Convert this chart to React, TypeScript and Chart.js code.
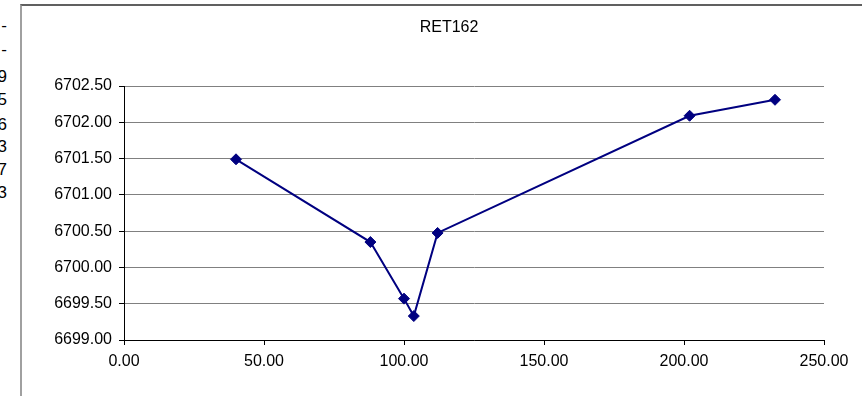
import React, { useEffect, useRef } from "react";
import { Chart, registerables } from "chart.js";

Chart.register(...registerables);

const chartTitle = "RET162";
const distances = [40, 88, 100, 103.5, 112, 202, 232.5];
const elevations = [6701.49, 6700.35, 6699.57, 6699.33, 6700.475, 6702.09, 6702.31];
const xMin = 0;
const xMax = 250;
const xStep = 50;
const yMin = 6699;
const yMax = 6702.5;
const yStep = 0.5;
const sideGlyphs = ["-", "-", "9", "5", "6", "3", "7", "3"];
const sideGlyphTops = [16, 40, 67, 90, 115, 137, 160, 183];

const FONT_FAMILY = "'Liberation Sans', Arial, sans-serif";

const titlePlugin = {
  id: "centeredTitle",
  afterDraw(chart: any) {
    const ctx = chart.ctx;
    ctx.save();
    ctx.font = `16px ${FONT_FAMILY}`;
    ctx.fillStyle = "#000";
    ctx.textAlign = "center";
    ctx.textBaseline = "middle";
    ctx.fillText(chartTitle, 449, 28);
    ctx.restore();
  },
};

export default function App() {
  const canvasRef = useRef<HTMLCanvasElement | null>(null);

  useEffect(() => {
    document.body.style.margin = "0";
    const canvas = canvasRef.current;
    if (!canvas) return;
    const font = { family: FONT_FAMILY, size: 16 };
    const chart = new Chart(canvas, {
      type: "scatter",
      data: {
        datasets: [
          {
            label: chartTitle,
            data: distances.map((x, i) => ({ x, y: elevations[i] })),
            showLine: true,
            borderColor: "#000080",
            backgroundColor: "#000080",
            borderWidth: 2,
            pointStyle: "rectRot",
            pointRadius: 5.5,
            pointHoverRadius: 5.5,
            pointBorderWidth: 1,
          },
        ],
      },
      options: {
        animation: false,
        responsive: false,
        devicePixelRatio: 1,
        layout: { padding: { left: 30, right: 38, top: 86, bottom: 20 } },
        plugins: {
          legend: { display: false },
          tooltip: { enabled: false },
          title: { display: false },
        },
        scales: {
          x: {
            type: "linear",
            min: xMin,
            max: xMax,
            afterFit: (scale: any) => {
              scale.height = 36;
            },
            ticks: {
              stepSize: xStep,
              color: "#000",
              font,
              padding: 7,
              maxRotation: 0,
              callback: (v: any) => Number(v).toFixed(2),
            },
            grid: {
              drawOnChartArea: false,
              drawTicks: true,
              tickLength: 5,
              tickColor: "#000",
            },
            border: { color: "#000", width: 1 },
          },
          y: {
            type: "linear",
            min: yMin,
            max: yMax,
            afterFit: (scale: any) => {
              scale.width = 94;
            },
            ticks: {
              stepSize: yStep,
              color: "#000",
              font,
              padding: 7,
              callback: (v: any) => Number(v).toFixed(2),
            },
            grid: {
              color: "#808080",
              lineWidth: 1,
              drawTicks: true,
              tickLength: 5,
              tickColor: "#000",
            },
            border: { color: "#000", width: 1 },
          },
        },
      },
      plugins: [titlePlugin],
    });
    return () => chart.destroy();
  }, []);

  return (
    <div style={{ position: "relative", width: 862, height: 396, overflow: "hidden", background: "#fff" }}>
      {sideGlyphs.map((g, i) => (
        <div
          key={i}
          style={{
            position: "absolute",
            right: 855,
            top: sideGlyphTops[i],
            fontFamily: FONT_FAMILY,
            fontSize: 17,
            lineHeight: "20px",
            color: "#000",
            whiteSpace: "nowrap",
          }}
        >
          {g === "-" ? g : "00" + g}
        </div>
      ))}
      <div
        style={{
          position: "absolute",
          left: 20,
          top: 4,
          width: 842,
          height: 392,
          borderLeft: "2px solid #a0a0a0",
          borderTop: "2px solid #606060",
          boxSizing: "border-box",
        }}
      />
      <canvas ref={canvasRef} width={862} height={396} style={{ position: "absolute", left: 0, top: 0 }} />
    </div>
  );
}
